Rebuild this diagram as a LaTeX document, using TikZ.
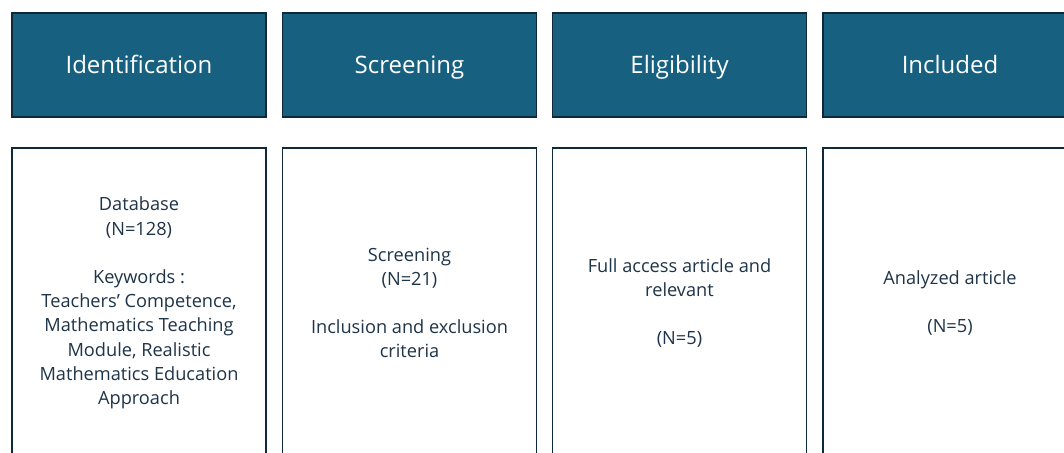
\documentclass[tikz,border=0pt]{standalone}
\usepackage{fontspec}
\setmainfont{Open Sans}
\definecolor{hdrfill}{RGB}{24,96,128}
\definecolor{edge}{RGB}{14,42,58}
\definecolor{bodytext}{RGB}{30,52,72}
\tikzset{
  hdr/.style={draw=edge, line width=1.8pt, fill=hdrfill, text=white,
    minimum width=254pt, minimum height=104pt, inner sep=0pt,
    text height=17pt, text depth=0pt,
    font=\fontsize{24}{28}\selectfont},
  stagebox/.style={draw=edge, line width=1.8pt, fill=white, text=bodytext,
    minimum width=254pt, minimum height=310pt, inner sep=0pt, align=center,
    font=\fontsize{18.2}{24.2}\selectfont},
}
\begin{document}
\begin{tikzpicture}[x=1pt,y=-1pt]
\useasboundingbox (0,0) rectangle (1064,452);
\clip (0,0) rectangle (1064,452);
% stage headers
\node[hdr] (h1) at (139,65) {Identification};
\node[hdr] (h2) at (409.5,65) {Screening};
\node[hdr] (h3) at (679.5,65) {Eligibility};
\node[hdr] (h4) at (950,65) {Included};
% stage contents
\node[stagebox] (b1) at (139,303) {Database\\(N=128)\\[24.2pt]Keywords :\\Teachers’ Competence,\\Mathematics Teaching\\Module, Realistic\\Mathematics Education\\Approach};
\node[stagebox] (b2) at (409.5,303) {Screening\\(N=21)\\[24.2pt]Inclusion and exclusion\\criteria};
\node[stagebox] (b3) at (679.5,303) {Full access article and\\relevant\\[24.2pt](N=5)};
\node[stagebox] (b4) at (950,303) {Analyzed article\\[24.2pt](N=5)};
\end{tikzpicture}
\end{document}
